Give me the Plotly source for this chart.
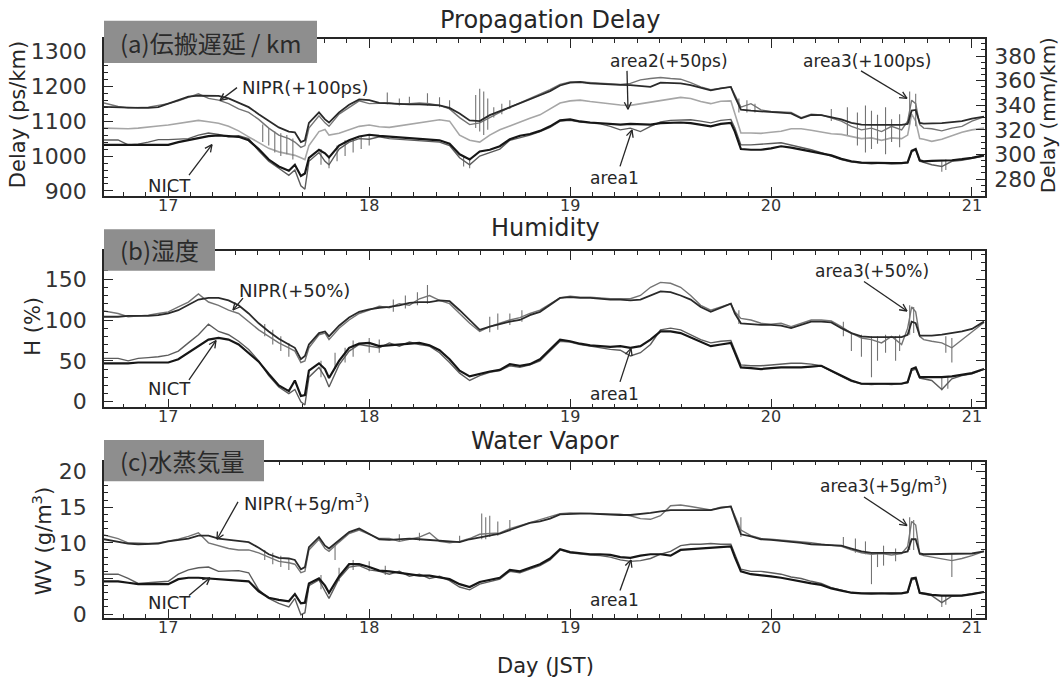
import math
import plotly.graph_objects as go

# ---------------- data ----------------
DAY = [16.68, 16.75, 16.80, 16.85, 16.90, 16.95, 17.00, 17.05, 17.10, 17.15,
       17.20, 17.25, 17.30, 17.35, 17.40, 17.45, 17.50, 17.55, 17.60, 17.63,
       17.66, 17.68, 17.70, 17.75, 17.78, 17.80, 17.85, 17.90, 17.95, 18.00,
       18.05, 18.10, 18.15, 18.20, 18.25, 18.30, 18.35, 18.40, 18.45, 18.50,
       18.55, 18.60, 18.65, 18.70, 18.75, 18.80, 18.85, 18.90, 18.95, 19.00,
       19.05, 19.10, 19.15, 19.20, 19.25, 19.30, 19.35, 19.40, 19.45, 19.50,
       19.55, 19.60, 19.65, 19.70, 19.75, 19.80, 19.82, 19.85, 19.90, 19.95,
       20.00, 20.05, 20.10, 20.15, 20.20, 20.25, 20.30, 20.35, 20.40, 20.45,
       20.50, 20.55, 20.60, 20.65, 20.68, 20.70, 20.72, 20.74, 20.76, 20.80,
       20.85, 20.90, 20.95, 21.00, 21.06]

# (a) propagation delay, ps/km
NICT_D = [1032, 1032, 1032, 1032, 1032, 1032, 1032, 1040, 1046, 1052,
          1057, 1059, 1057, 1055, 1045, 1020, 990, 970, 958, 975,
          943, 950, 995, 1018, 1008, 996, 1030, 1045, 1056, 1061,
          1058, 1056, 1055, 1052, 1050, 1048, 1045, 1035, 1005, 990,
          1013, 1018, 1028, 1048, 1058, 1063, 1072, 1085, 1102, 1105,
          1099, 1096, 1094, 1090, 1090, 1092, 1090, 1090, 1094, 1096,
          1096, 1094, 1090, 1085, 1092, 1095, 1070, 1020, 1018, 1018,
          1022, 1028, 1024, 1018, 1013, 1008, 1002, 992, 985, 981,
          980, 980, 980, 980, 982, 1015, 1020, 988, 985, 986,
          986, 988, 991, 995, 1002]
AREA1_D = [1046, 1046, 1032, 1034, 1040, 1047, 1047, 1048, 1050, 1060,
           1066, 1062, 1055, 1058, 1050, 1015, 985, 965, 945, 960,
           915, 905, 985, 1010, 985, 975, 1020, 1040, 1050, 1048,
           1055, 1050, 1048, 1046, 1045, 1042, 1040, 1030, 995, 975,
           1000, 1010, 1020, 1045, 1052, 1060, 1070, 1082, 1100, 1102,
           1097, 1095, 1092, 1085, 1075, 1080, 1070, 1085, 1098, 1102,
           1104, 1104, 1100, 1095, 1102, 1105, 1080, 1032, 1032, 1035,
           1036, 1038, 1032, 1025, 1018, 1010, 1000, 990, 983, 980,
           978, 980, 978, 979, 980, 1012, 1018, 985, 982, 975,
           970, 985, 988, 993, 1000]
NIPR_D = [1141, 1139, 1138, 1138, 1138, 1140, 1150, 1160, 1170, 1173,
          1172, 1172, 1165, 1152, 1140, 1120, 1100, 1082, 1070, 1068,
          1040, 1045, 1095, 1125, 1105, 1096, 1125, 1147, 1162, 1160,
          1152, 1150, 1150, 1148, 1148, 1146, 1145, 1138, 1122, 1102,
          1100, 1117, 1128, 1140, 1150, 1162, 1174, 1186, 1202, 1210,
          1212, 1208, 1206, 1205, 1204, 1203, 1200, 1198, 1210, 1210,
          1208, 1203, 1195, 1188, 1194, 1198, 1170, 1133, 1130, 1128,
          1126, 1125, 1122, 1108, 1118, 1117, 1112, 1105, 1095, 1090,
          1089, 1089, 1089, 1089, 1092, 1130, 1132, 1095, 1093, 1093,
          1094, 1097, 1100, 1107, 1113]
AREA3_D = [1152, 1142, 1138, 1139, 1140, 1145, 1150, 1158, 1168, 1178,
           1165, 1160, 1150, 1135, 1125, 1105, 1080, 1060, 1050, 1040,
           1025, 1030, 1080, 1115, 1095, 1085, 1120, 1140, 1158, 1150,
           1150, 1152, 1148, 1150, 1152, 1150, 1145, 1135, 1110, 1090,
           1095, 1110, 1125, 1140, 1152, 1165, 1176, 1190, 1205, 1212,
           1212, 1210, 1208, 1206, 1205, 1208, 1218, 1222, 1225, 1222,
           1220, 1210, 1198, 1190, 1195, 1198, 1175, 1140, 1150, 1132,
           1128, 1127, 1125, 1110, 1120, 1118, 1110, 1100, 1085, 1075,
           1080, 1070, 1085, 1075, 1100, 1160, 1150, 1090, 1080, 1078,
           1072, 1080, 1085, 1100, 1112]
AREA2_D = [1080, 1078, 1078, 1080, 1082, 1086, 1089, 1093, 1098, 1102,
           1098, 1094, 1085, 1072, 1055, 1038, 1022, 1012, 1005, 1002,
           995, 990, 1030, 1070, 1076, 1060, 1065, 1076, 1085, 1089,
           1084, 1082, 1086, 1092, 1096, 1099, 1104, 1100, 1060, 1045,
           1040, 1060, 1075, 1086, 1098, 1108, 1118, 1135, 1152, 1158,
           1160, 1156, 1152, 1150, 1146, 1145, 1150, 1155, 1160, 1165,
           1168, 1165, 1156, 1150, 1157, 1158, 1120, 1066, 1066, 1065,
           1068, 1071, 1078, 1078, 1074, 1068, 1064, 1062, 1055, 1050,
           1052, 1045, 1052, 1050, 1060, 1120, 1100, 1050, 1048, 1042,
           1048, 1058, 1068, 1075, 1080]
SPIKE_DAY_D = [17.47, 17.50, 17.53, 17.56, 17.59, 17.62, 17.76, 17.80, 17.84, 17.88,
               17.92, 17.96, 18.00, 18.09, 18.15, 18.20, 18.29, 18.35, 18.40, 18.47,
               18.50, 18.53, 18.55, 18.57, 18.59, 18.62, 18.66, 18.70, 19.84, 19.88,
               19.92, 20.30, 20.38, 20.43, 20.47, 20.50, 20.53, 20.57, 20.60, 20.64,
               20.69, 20.72, 20.85, 20.87]
SPIKE_LO_D = [1040, 1030, 1010, 1000, 1005, 990, 975, 965, 985, 1000,
              1010, 1020, 1030, 1148, 1145, 1146, 1145, 1140, 1132, 970,
              965, 1080, 1070, 1060, 1075, 1110, 1120, 1135, 1125, 1125,
              1125, 1100, 1060, 1030, 1010, 1020, 1035, 1005, 1040, 1025,
              1090, 1085, 955, 960]
SPIKE_HI_D = [1090, 1080, 1070, 1065, 1060, 1050, 1020, 1000, 1030, 1045,
              1050, 1055, 1060, 1182, 1165, 1170, 1180, 1168, 1160, 1000,
              995, 1175, 1193, 1185, 1165, 1140, 1150, 1160, 1165, 1160,
              1150, 1135, 1140, 1125, 1145, 1130, 1118, 1140, 1105, 1120,
              1185, 1178, 985, 990]

# (b) humidity, %
NICT_H = [47, 47, 47, 48, 48, 48, 48, 52, 60, 68,
          76, 78, 76, 70, 60, 49, 34, 20, 13, 26,
          7, 8, 38, 47, 40, 29, 50, 66, 71, 72,
          68, 69, 70, 71, 72, 69, 63, 52, 38, 31,
          34, 37, 39, 46, 44, 46, 52, 64, 76, 74,
          71, 69, 68, 67, 68, 66, 68, 76, 86, 86,
          84, 79, 73, 68, 70, 72, 60, 42, 41, 40,
          41, 42, 42, 42, 43, 44, 38, 32, 26, 22,
          22, 22, 22, 22, 24, 40, 42, 30, 30, 30,
          30, 31, 33, 35, 40]
AREA1_H = [53, 53, 50, 53, 54, 55, 57, 62, 72, 82,
           95, 86, 82, 74, 64, 50, 32, 18, 10, 15,
           0, -4, 30, 42, 30, 18, 45, 62, 70, 68,
           66, 72, 68, 73, 70, 68, 60, 48, 35, 26,
           32, 36, 38, 44, 42, 45, 50, 62, 74, 73,
           70, 68, 66, 64, 63, 56, 60, 70, 88, 90,
           88, 82, 76, 72, 74, 75, 62, 45, 44, 44,
           45, 46, 47, 47, 46, 44, 37, 31, 25, 22,
           21, 22, 21, 22, 23, 38, 40, 29, 28, 26,
           15, 28, 32, 34, 40]
NIPR_H = [104, 104, 105, 105, 105, 106, 108, 112, 118, 125,
          127, 127, 124, 118, 108, 96, 86, 77, 70, 66,
          52, 56, 70, 84, 86, 80, 93, 103, 110, 113,
          115, 116, 118, 121, 122, 122, 124, 123, 112, 100,
          88, 92, 95, 98, 100, 106, 110, 118, 127, 128,
          127, 127, 126, 125, 125, 124, 125, 130, 135, 134,
          130, 125, 116, 110, 115, 120, 108, 96, 95, 94,
          94, 93, 90, 94, 98, 98, 97, 90, 84, 80,
          79, 79, 79, 79, 82, 98, 96, 81, 81, 81,
          82, 84, 86, 89, 98]
AREA3_H = [111, 108, 104, 105, 106, 108, 110, 116, 122, 132,
           122, 118, 112, 108, 98, 88, 80, 72, 66, 62,
           48, 50, 66, 82, 84, 76, 90, 100, 108, 112,
           117, 115, 120, 118, 126, 130, 124, 120, 108, 96,
           86, 92, 96, 100, 103, 108, 112, 120, 127, 129,
           128, 128, 127, 126, 126, 126, 130, 140, 146, 145,
           140, 130, 118, 112, 116, 120, 110, 102, 100, 96,
           95, 96, 92, 96, 100, 100, 99, 92, 84, 78,
           76, 72, 80, 70, 90, 116, 110, 80, 76, 74,
           72, 66, 76, 85, 97]
SPIKE_DAY_H = [17.48, 17.52, 17.56, 17.60, 17.76, 17.83, 17.88, 17.92, 18.00, 18.05,
               18.12, 18.18, 18.24, 18.29, 18.60, 18.64, 18.70, 18.76, 19.84, 20.36,
               20.40, 20.45, 20.50, 20.53, 20.57, 20.62, 20.64, 20.69, 20.71, 20.87,
               20.90, 20.85, 20.88]
SPIKE_LO_H = [80, 70, 62, 55, 30, 40, 48, 55, 60, 60,
              110, 114, 118, 120, 85, 88, 94, 98, 95, 80,
              62, 55, 30, 50, 60, 50, 62, 82, 84, 60,
              48, 14, 16]
SPIKE_HI_H = [95, 88, 80, 72, 50, 60, 66, 75, 78, 76,
              125, 130, 134, 143, 104, 108, 108, 112, 112, 98,
              85, 82, 80, 80, 82, 80, 82, 118, 116, 80,
              78, 30, 30]

# (c) water vapour, g/m^3
NICT_W = [4.6, 4.6, 4.4, 4.2, 4.2, 4.2, 4.2, 4.9, 5.1, 5.1,
          5.0, 4.9, 4.9, 4.8, 4.6, 3.2, 2.3, 2.0, 1.8, 2.8,
          1.5, 1.6, 4.3, 5.0, 4.0, 3.0, 5.3, 7.0, 7.0, 6.6,
          6.1, 6.0, 5.8, 5.5, 5.4, 5.4, 5.2, 4.9, 4.2, 3.8,
          4.5, 4.8, 5.1, 6.2, 6.0, 6.5, 7.0, 7.8, 9.1, 8.7,
          8.5, 8.4, 8.4, 8.3, 8.0, 7.9, 8.2, 8.4, 8.4, 8.2,
          9.0, 9.1, 9.2, 9.3, 9.4, 9.5, 8.0, 6.0, 5.6, 5.5,
          5.3, 5.1, 4.8, 4.6, 4.3, 4.1, 3.6, 3.3, 3.0, 2.9,
          2.9, 2.9, 2.9, 2.9, 3.1, 5.0, 5.1, 3.0, 2.9, 2.7,
          2.6, 2.6, 2.6, 2.8, 3.1]
AREA1_W = [5.6, 5.6, 5.0, 4.3, 4.4, 4.5, 4.6, 5.6, 6.2, 6.5,
           6.6, 6.0, 6.0, 6.1, 5.8, 3.4, 2.2, 1.5, 1.0, 2.2,
           -0.1, 0.2, 4.0, 4.8, 3.2, 2.2, 5.0, 6.6, 6.8, 6.2,
           6.0, 5.6, 6.0, 5.3, 5.6, 5.0, 5.3, 4.7, 3.8, 3.4,
           4.2, 4.6, 4.9, 6.0, 5.8, 6.3, 6.8, 7.6, 9.0, 8.6,
           8.4, 8.3, 8.2, 8.0, 7.6, 7.4, 7.5, 7.8, 8.4, 8.8,
           9.6, 9.8, 9.8, 9.9, 9.8, 9.8, 8.4, 6.3, 6.0, 6.0,
           5.8, 5.6, 5.2, 5.0, 4.6, 4.3, 3.7, 3.4, 3.0, 2.9,
           2.8, 2.9, 2.8, 2.9, 3.0, 4.8, 4.9, 2.9, 2.8, 2.6,
           1.6, 2.5, 2.6, 2.8, 3.1]
NIPR_W = [10.5, 10.2, 9.9, 9.8, 9.8, 9.9, 10.2, 10.4, 10.6, 11.0,
          11.0, 10.6, 10.4, 10.3, 10.1, 9.3, 8.4, 7.9, 7.8, 7.6,
          6.3, 6.6, 9.4, 10.8, 9.6, 9.2, 10.4, 11.5, 12.0, 11.3,
          10.5, 10.4, 10.5, 10.6, 10.5, 10.4, 10.2, 10.1, 10.1, 10.5,
          10.8, 11.0, 11.3, 11.8, 12.3, 12.8, 13.0, 13.4, 14.0, 14.1,
          14.1, 14.1, 14.0, 14.0, 13.9, 13.9, 14.0, 14.2, 14.4, 14.6,
          14.6, 14.6, 14.6, 14.6, 14.9, 15.1, 13.5, 11.2, 10.9, 10.5,
          10.4, 10.3, 10.2, 10.0, 9.8, 9.7, 9.7, 9.6, 9.2, 8.8,
          8.6, 8.6, 8.6, 8.6, 8.8, 10.5, 10.5, 8.5, 8.4, 8.4,
          8.4, 8.4, 8.4, 8.5, 8.8]
AREA3_W = [11.1, 10.6, 10.0, 9.9, 9.9, 10.0, 10.2, 10.5, 10.9, 11.4,
           10.0, 9.6, 9.2, 9.0, 9.0, 8.6, 8.0, 7.4, 7.2, 7.0,
           5.8, 6.0, 9.0, 10.5, 9.2, 8.8, 10.1, 11.3, 11.8, 11.2,
           10.6, 10.6, 10.2, 10.5, 10.8, 11.4, 10.2, 10.0, 10.2, 10.6,
           11.2, 11.3, 11.4, 12.0, 12.4, 12.9, 13.2, 13.6, 14.1, 14.2,
           14.2, 14.2, 14.1, 14.0, 14.0, 13.8, 13.4, 13.3, 13.8, 15.2,
           15.3, 15.1, 14.8, 14.6, 15.0, 15.1, 13.8, 11.8, 11.0, 10.6,
           10.5, 10.4, 10.2, 10.1, 10.0, 9.8, 9.7, 9.5, 9.0, 8.6,
           8.4, 8.5, 8.3, 8.5, 9.5, 13.0, 12.5, 8.4, 8.2, 8.0,
           7.8, 7.5, 7.8, 8.2, 8.8]
SPIKE_DAY_W = [17.48, 17.52, 17.56, 17.60, 17.76, 17.83, 17.85, 17.92, 18.00, 18.08,
               18.15, 18.25, 18.45, 18.56, 18.58, 18.60, 18.64, 18.70, 19.85, 20.36,
               20.42, 20.47, 20.50, 20.53, 20.56, 20.62, 20.69, 20.71, 20.90, 20.85,
               20.87]
SPIKE_LO_W = [7.6, 7.0, 6.6, 6.2, 3.5, 7.6, 4.6, 6.2, 6.0, 5.5,
              10.2, 10.3, 10.0, 10.5, 10.5, 10.8, 11.0, 11.6, 10.8, 9.4,
              8.6, 8.4, 4.2, 6.6, 6.8, 7.4, 9.0, 9.0, 5.2, 1.0,
              1.3]
SPIKE_HI_W = [9.0, 8.6, 8.2, 7.8, 5.5, 9.6, 6.5, 7.6, 7.4, 6.8,
              11.2, 11.4, 11.0, 14.1, 13.6, 13.8, 13.0, 13.2, 13.6, 10.8,
              10.6, 10.2, 8.6, 8.6, 9.6, 9.2, 13.6, 13.2, 8.4, 2.6,
              2.6]

for arr in [NICT_D, AREA1_D, NIPR_D, AREA3_D, AREA2_D, NICT_H, AREA1_H, NIPR_H,
            AREA3_H, NICT_W, AREA1_W, NIPR_W, AREA3_W]:
    assert len(arr) == len(DAY), len(arr)
for a, b, c in [(SPIKE_DAY_D, SPIKE_LO_D, SPIKE_HI_D), (SPIKE_DAY_H, SPIKE_LO_H, SPIKE_HI_H),
                (SPIKE_DAY_W, SPIKE_LO_W, SPIKE_HI_W)]:
    assert len(a) == len(b) == len(c), (len(a), len(b), len(c))

# ---------------- layout geometry ----------------
W, H = 1062, 690
FONT = "DejaVu Sans"
CJK = "Noto Sans CJK JP"
INK = "#262626"
X0, X1 = 104, 985
PANELS = [(38, 197), (253, 412), (467, 626)]
XRANGE = [16.68, 21.065]
YRANGES = [[886, 1334], [-7, 184.5], [-0.55, 21.4]]


def px(x):
    return x / W


def py(y):
    return 1 - y / H


fig = go.Figure()

C_NICT, C_A1, C_NIPR, C_A3, C_A2 = "#161616", "#5c5c5c", "#2a2a2a", "#747474", "#a6a6a6"

panels = [
    dict(nict=NICT_D, a1=AREA1_D, nipr=NIPR_D, a3=AREA3_D, a2=AREA2_D,
         sd=SPIKE_DAY_D, slo=SPIKE_LO_D, shi=SPIKE_HI_D),
    dict(nict=NICT_H, a1=AREA1_H, nipr=NIPR_H, a3=AREA3_H, a2=None,
         sd=SPIKE_DAY_H, slo=SPIKE_LO_H, shi=SPIKE_HI_H),
    dict(nict=NICT_W, a1=AREA1_W, nipr=NIPR_W, a3=AREA3_W, a2=None,
         sd=SPIKE_DAY_W, slo=SPIKE_LO_W, shi=SPIKE_HI_W),
]

for i, p in enumerate(panels):
    xa = "x" if i == 0 else f"x{i+1}"
    ya = "y" if i == 0 else f"y{i+1}"
    if p["a2"] is not None:
        fig.add_trace(go.Scatter(x=DAY, y=p["a2"], mode="lines", xaxis=xa, yaxis=ya,
                                 line=dict(color=C_A2, width=1.6), name="area2"))
    sx, sy = [], []
    for d, lo, hi in zip(p["sd"], p["slo"], p["shi"]):
        sx += [d, d, None]
        sy += [lo, hi, None]
    fig.add_trace(go.Scatter(x=sx, y=sy, mode="lines", xaxis=xa, yaxis=ya,
                             line=dict(color=C_A3, width=1.1), name="spikes"))
    fig.add_trace(go.Scatter(x=DAY, y=p["a3"], mode="lines", xaxis=xa, yaxis=ya,
                             line=dict(color=C_A3, width=1.4), name="area3"))
    fig.add_trace(go.Scatter(x=DAY, y=p["a1"], mode="lines", xaxis=xa, yaxis=ya,
                             line=dict(color=C_A1, width=1.4), name="area1"))
    fig.add_trace(go.Scatter(x=DAY, y=p["nipr"], mode="lines", xaxis=xa, yaxis=ya,
                             line=dict(color=C_NIPR, width=1.8), name="NIPR"))
    fig.add_trace(go.Scatter(x=DAY, y=p["nict"], mode="lines", xaxis=xa, yaxis=ya,
                             line=dict(color=C_NICT, width=2.2), name="NICT"))

axis_common = dict(showline=True, linecolor=INK, linewidth=1.5, ticks="inside",
                   tickcolor=INK, showgrid=False, zeroline=False, fixedrange=True)

layout = dict(width=W, height=H, margin=dict(l=0, r=0, t=0, b=0),
              paper_bgcolor="white", plot_bgcolor="white", showlegend=False,
              font=dict(family=FONT, color=INK))

ydtick = [100, 50, 5]
yminor = [20, 10, 1]
for i, (top, bot) in enumerate(PANELS):
    sfx = "" if i == 0 else str(i + 1)
    layout["xaxis" + sfx] = dict(
        axis_common, domain=[px(X0), px(X1)], range=XRANGE, anchor="y" + sfx,
        mirror="ticks", tick0=17, dtick=1, ticklen=9, tickwidth=1.3,
        tickfont=dict(size=16, family=FONT, color="#333"), ticklabelstandoff=-6,
        minor=dict(ticks="inside", tick0=17, dtick=1 / 9, ticklen=4, tickcolor=INK,
                   showgrid=False))
    layout["yaxis" + sfx] = dict(
        axis_common, domain=[py(bot), py(top)], range=YRANGES[i], anchor="x" + sfx,
        mirror=("ticks" if i > 0 else False), tick0=0, dtick=ydtick[i], ticklen=9,
        tickwidth=1.3, tickfont=dict(size=22, family=FONT, color="#333"),
        ticklabelstandoff=11,
        minor=dict(ticks="inside", dtick=yminor[i], ticklen=4, tickcolor=INK,
                   showgrid=False))

layout["yaxis4"] = dict(axis_common, overlaying="y", side="right", anchor="x",
                        range=[266.4, 393.6], tick0=0, dtick=20, ticklen=9,
                        tickwidth=1.3, tickfont=dict(size=22, family=FONT, color="#333"),
                        ticklabelstandoff=3,
                        minor=dict(ticks="inside", dtick=5, ticklen=4, tickcolor=INK,
                                   showgrid=False))
fig.add_trace(go.Scatter(x=[None], y=[None], xaxis="x", yaxis="y4", showlegend=False))

fig.update_layout(**layout)

ann = []
shapes = []


def text(x, y, s, size, family=FONT, xanchor="center", angle=0, color=INK):
    ann.append(dict(x=px(x), y=py(y), xref="paper", yref="paper", text=s, showarrow=False,
                    xanchor=xanchor, yanchor="middle", textangle=angle,
                    font=dict(size=size, family=family, color=color)))


def arrow(tail, tip, head=8.0, spread=0.45):
    (x0, y0), (x1, y1) = tail, tip
    seg = [((x0, y0), (x1, y1))]
    ang = math.atan2(y0 - y1, x0 - x1)
    for s in (-spread, spread):
        seg.append(((x1, y1), (x1 + head * math.cos(ang + s), y1 + head * math.sin(ang + s))))
    for (a, b) in seg:
        shapes.append(dict(type="line", xref="paper", yref="paper",
                           x0=px(a[0]), y0=py(a[1]), x1=px(b[0]), y1=py(b[1]),
                           line=dict(color=INK, width=1.3), layer="above"))


# panel titles
text(550, 18, "Propagation Delay", 24)
text(545, 230, "Humidity", 24)
text(545, 446, "Water Vapor", 24)

# grey label boxes
for (x0, y0, x1, y1, s, ty) in [(104, 19, 317, 62, "(a)伝搬遅延 / km", 41),
                                (104, 231, 215, 273, "(b)湿度", 252),
                                (104, 445, 264, 487, "(c)水蒸気量", 466)]:
    shapes.append(dict(type="rect", xref="paper", yref="paper", x0=px(x0), x1=px(x1),
                       y0=py(y1), y1=py(y0), fillcolor="#8e8e8e", line=dict(width=0),
                       layer="above"))
    text(118, ty, s, 24, family=CJK, xanchor="left", color="#2a2a2a")

# axis titles
text(18, 115, "Delay (ps/km)", 21, angle=-90)
text(1048, 115, "Delay (mm/km)", 20, angle=-90)
text(33, 330, "H (%)", 21, angle=-90)
text(42, 548, "WV (g/m<sup>3</sup>)", 21, angle=-90)
text(545, 675, "Day (JST)", 21)

# series labels + arrows (pixel positions of tails / tips)
text(305, 87, "NIPR(+100ps)", 18)
arrow((237, 87), (220, 100))
text(169, 186, "NICT", 18)
arrow((189, 176), (212, 145))
text(669, 60, "area2(+50ps)", 17)
arrow((627, 70), (628, 109))
text(867, 60, "area3(+100ps)", 17)
arrow((861, 70), (907, 98))
text(614, 179, "area1", 17)
arrow((620, 167), (632, 130))

text(294, 293, "NIPR(+50%)", 18)
arrow((243, 301), (233, 313))
text(169, 393, "NICT", 18)
arrow((189, 384), (216, 344))
text(872, 273, "area3(+50%)", 17)
arrow((864, 284), (907, 314))
text(614, 398, "area1", 17)
arrow((620, 386), (631, 352))

text(307, 508, "NIPR(+5g/m<sup>3</sup>)", 18)
arrow((238, 508), (217, 546))
text(169, 610, "NICT", 18)
arrow((189, 603), (210, 585))
text(884, 491, "area3(+5g/m<sup>3</sup>)", 17)
arrow((864, 503), (907, 532))
text(614, 608, "area1", 17)
arrow((620, 598), (631, 567))

fig.update_layout(annotations=ann, shapes=shapes)
fig.write_html("out.html", config={"displayModeBar": False},
               post_script="document.body.style.margin='0';document.body.style.overflow='hidden';")
